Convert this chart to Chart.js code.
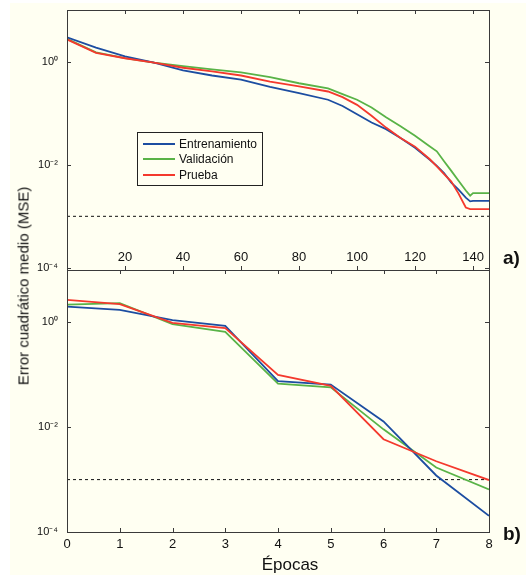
<!DOCTYPE html>
<html>
<head>
<meta charset="utf-8">
<script src="https://cdn.jsdelivr.net/npm/chart.js@4.4.1/dist/chart.umd.min.js"></script>
<style>
  body { margin: 0; width: 526px; height: 575px; overflow: hidden; background: #fff; font-family: "Liberation Sans", Arial, sans-serif; color: #111; }
  #panel { position: absolute; left: 10px; top: 3px; width: 516px; height: 572px; background: #fffff2; }
  canvas { position: absolute; left: 0; }
  .txt { position: absolute; white-space: nowrap; line-height: 1; }
  #legend { position: absolute; left: 137px; top: 132px; width: 126px; height: 54px; border: 1px solid #222; box-sizing: border-box; padding-top: 3px; }
  #legend .row { height: 15.5px; display: flex; align-items: center; font-size: 12px; }
  #legend .sw { width: 32px; height: 2px; margin: 0 4px 0 5px; }
</style>
</head>
<body>
<div id="panel"></div>
<canvas id="topChart" width="526" height="280" style="top:0"></canvas>
<canvas id="botChart" width="526" height="315" style="top:260px"></canvas>
<div id="legend"></div>
<div class="txt" style="left:22.5px;top:286px;font-size:15px;transform:translate(-50%,-50%) rotate(-90deg)">Error cuadrático medio (MSE)</div>
<div class="txt" style="left:290px;top:564px;font-size:17px;transform:translate(-50%,-50%)">Épocas</div>
<div class="txt" style="left:503px;top:257px;font-size:19px;font-weight:bold;transform:translateY(-50%)">a)</div>
<div class="txt" style="left:503px;top:533px;font-size:19px;font-weight:bold;transform:translateY(-50%)">b)</div>
<script>
// series names and colours
const seriesNames = ['Entrenamiento', 'Validación', 'Prueba'];
const seriesColors = ['#1c4da1', '#59b347', '#f4392d'];
const seriesOrder = [1, 2, 0]; // red on top, green underneath
const goalMSE = 1e-3;

// panel a): full training run
const topEpochs = [0, 10, 20, 30, 40, 50, 60, 70, 80, 90, 95, 100, 105, 110, 115, 120, 125, 127.5, 130, 132.5, 135, 137.5, 139, 140, 145.5];
const topTrain = [2.95, 1.86, 1.26, 0.955, 0.676, 0.537, 0.447, 0.324, 0.245, 0.182, 0.138, 0.0955, 0.066, 0.049, 0.033, 0.0214, 0.0126, 0.0095, 0.0069, 0.0045, 0.0033, 0.0023, 0.00195, 0.0020, 0.0020];
const topVal = [2.75, 1.51, 1.17, 0.955, 0.813, 0.708, 0.617, 0.501, 0.380, 0.302, 0.234, 0.182, 0.129, 0.083, 0.056, 0.0363, 0.0229, 0.0182, 0.0117, 0.0076, 0.0049, 0.00316, 0.00251, 0.00282, 0.00282];
const topTest = [2.69, 1.48, 1.16, 0.955, 0.759, 0.646, 0.537, 0.407, 0.331, 0.263, 0.204, 0.145, 0.089, 0.0525, 0.033, 0.0224, 0.0129, 0.0093, 0.0066, 0.0047, 0.00275, 0.00148, 0.00138, 0.00138, 0.00138];
const topXTicks = [20, 40, 60, 80, 100, 120, 140];
const topXMax = 145.5;
const topYMin = 9.1e-5;

// panel b): 8 epochs
const botEpochs = [0, 1, 2, 3, 4, 5, 6, 7, 8];
const botTrain = [2.0, 1.74, 1.11, 0.86, 0.076, 0.065, 0.0129, 0.0012, 0.000204];
const botVal = [2.19, 2.34, 0.93, 0.66, 0.068, 0.0575, 0.0091, 0.0017, 0.00065];
const botTest = [2.69, 2.24, 0.98, 0.78, 0.100, 0.0617, 0.0059, 0.00224, 0.00098];
const botXTicks = [0, 1, 2, 3, 4, 5, 6, 7, 8];
const botXMax = 8;
const botYMin = 1e-4;

const yMax = 10;
const yTicks = [1e-4, 1e-2, 1];
const yTickLabels = { '0.0001': '10⁻⁴', '0.01': '10⁻²', '1': '10⁰' };

Chart.defaults.font.family = '"Liberation Sans", Arial, sans-serif';
Chart.defaults.color = '#111';

// box, inward tick marks, and (top panel only) x labels sitting inside the box
const frame = {
  id: 'frame',
  afterDraw(chart, args, opts) {
    const { ctx, chartArea: a, scales: { x, y } } = chart;
    ctx.save();
    ctx.strokeStyle = '#3a3a3a';
    ctx.lineWidth = 1;
    ctx.strokeRect(a.left + 0.5, a.top + 0.5, a.right - a.left, a.bottom - a.top);
    ctx.beginPath();
    x.ticks.forEach(t => {
      const px = Math.round(x.getPixelForValue(t.value)) + 0.5;
      ctx.moveTo(px, a.top); ctx.lineTo(px, a.top + 4);
      ctx.moveTo(px, a.bottom); ctx.lineTo(px, a.bottom - 4);
    });
    y.ticks.forEach(t => {
      const py = Math.round(y.getPixelForValue(t.value)) + 0.5;
      ctx.moveTo(a.left, py); ctx.lineTo(a.left + 4, py);
      ctx.moveTo(a.right, py); ctx.lineTo(a.right - 4, py);
    });
    ctx.stroke();
    if (opts.innerLabels) {
      ctx.fillStyle = '#111';
      ctx.font = '13px "Liberation Sans", Arial, sans-serif';
      ctx.textAlign = 'center';
      ctx.textBaseline = 'middle';
      x.ticks.forEach(t => ctx.fillText(String(t.value), x.getPixelForValue(t.value), a.bottom - 13));
    }
    ctx.restore();
  }
};

const pts = (xs, ys) => xs.map((e, i) => ({ x: e, y: ys[i] }));
const noPad = s => { s.paddingTop = 0; s.paddingBottom = 0; s.paddingLeft = 0; s.paddingRight = 0; };

function makeChart(id, epochs, series, xMax, xTicks, yMin, pad, innerLabels, xAxisHeight) {
  const datasets = series.map((vals, i) => ({
    label: seriesNames[i], data: pts(epochs, vals), borderColor: seriesColors[i], order: seriesOrder[i],
    borderWidth: 1.8, pointRadius: 0, tension: 0, fill: false
  }));
  datasets.push({
    label: 'meta', data: pts([0, xMax], [goalMSE, goalMSE]), borderColor: '#111', order: 5,
    borderWidth: 1, borderDash: [3, 3], pointRadius: 0
  });
  return new Chart(document.getElementById(id), {
    type: 'line',
    data: { datasets },
    plugins: [frame],
    options: {
      responsive: false, animation: false, events: [],
      layout: { padding: pad },
      plugins: { legend: { display: false }, tooltip: { enabled: false }, frame: { innerLabels } },
      scales: {
        x: {
          type: 'linear', min: 0, max: xMax,
          grid: { display: false, drawTicks: false }, border: { display: false },
          afterBuildTicks: s => { s.ticks = xTicks.map(v => ({ value: v })); },
          afterFit: s => { s.height = xAxisHeight; noPad(s); },
          ticks: { display: !innerLabels, autoSkip: false, maxRotation: 0, padding: 5, font: { size: 13 } }
        },
        y: {
          type: 'logarithmic', min: yMin, max: yMax,
          grid: { display: false, drawTicks: false }, border: { display: false },
          afterBuildTicks: s => { s.ticks = yTicks.map(v => ({ value: v })); },
          afterFit: s => { s.width = 67; noPad(s); },
          ticks: { padding: 9, font: { size: 11 }, callback: v => yTickLabels[String(v)] }
        }
      }
    }
  });
}

const topChart = makeChart('topChart', topEpochs, [topTrain, topVal, topTest], topXMax, topXTicks, topYMin,
  { left: 0, top: 10, right: 37, bottom: 10 }, true, 0);
makeChart('botChart', botEpochs, [botTrain, botVal, botTest], botXMax, botXTicks, botYMin,
  { left: 0, top: 10, right: 37, bottom: 0 }, false, 43);

// legend built from the top chart's datasets
const legend = document.getElementById('legend');
topChart.data.datasets.slice(0, 3).forEach(ds => {
  const row = document.createElement('div');
  row.className = 'row';
  row.innerHTML = `<span class="sw" style="background:${ds.borderColor}"></span>${ds.label}`;
  legend.appendChild(row);
});
</script>
</body>
</html>
